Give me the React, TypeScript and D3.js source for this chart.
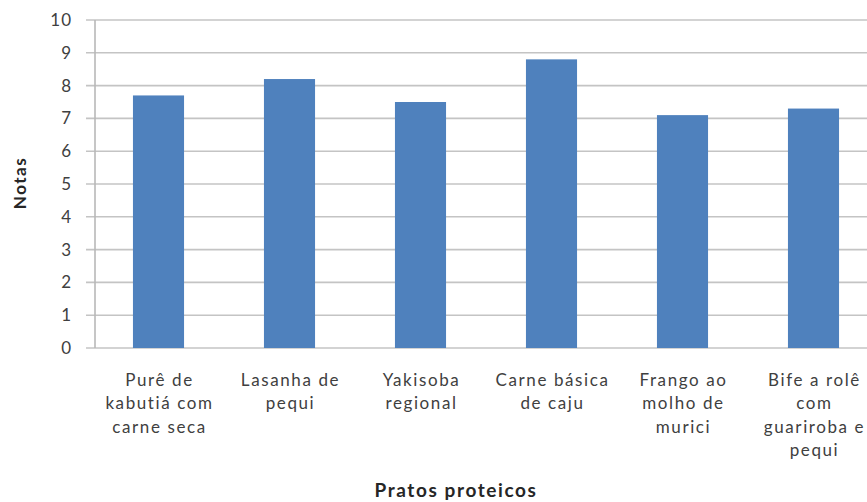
import React from "react";
import * as d3 from "d3";

// Average score per protein dish
const categories = [
  "Purê de kabutiá com carne seca",
  "Lasanha de pequi",
  "Yakisoba regional",
  "Carne básica de caju",
  "Frango ao molho de murici",
  "Bife a rolê com guariroba e pequi",
];
const categoryLines = [
  ["Purê de", "kabutiá com", "carne seca"],
  ["Lasanha de", "pequi"],
  ["Yakisoba", "regional"],
  ["Carne básica", "de caju"],
  ["Frango ao", "molho de", "murici"],
  ["Bife a rolê", "com", "guariroba e", "pequi"],
];
const notas = [7.7, 8.2, 7.5, 8.8, 7.1, 7.3];
const yTicks = [0, 1, 2, 3, 4, 5, 6, 7, 8, 9, 10];

const W = 867;
const H = 502;
const plotLeft = 95;
const plotTop = 20;
const plotBottom = 348;
const step = 131;
const FONT = "Lato, 'Open Sans', sans-serif";

export default function App() {
  const x = d3
    .scaleBand<string>()
    .domain(categories)
    .range([plotLeft - 2, plotLeft - 2 + step * categories.length])
    .paddingInner(0.61)
    .paddingOuter(0.305);
  const y = d3.scaleLinear().domain([0, 10]).range([plotBottom, plotTop]);

  return (
    <svg
      width={W}
      height={H}
      style={{ position: "absolute", left: 0, top: 0, background: "#fff" }}
    >
      {/* horizontal gridlines with left tick marks */}
      {yTicks.map((t) => (
        <g key={t}>
          <line
            x1={plotLeft - 9}
            x2={W}
            y1={y(t)}
            y2={y(t)}
            stroke="#c4c4c4"
            strokeWidth={1.6}
          />
          <text
            x={72}
            y={y(t)}
            dy="0.35em"
            textAnchor="end"
            fontFamily={FONT}
            fontSize={17}
            letterSpacing={1}
            fill="#404040"
          >
            {t}
          </text>
        </g>
      ))}
      {/* value axis */}
      <line
        x1={plotLeft}
        x2={plotLeft}
        y1={plotTop}
        y2={plotBottom}
        stroke="#b8b8b8"
        strokeWidth={1.6}
      />
      {/* bars */}
      {categories.map((c, i) => (
        <rect
          key={c}
          x={x(c)}
          y={y(notas[i])}
          width={x.bandwidth()}
          height={y(0) - y(notas[i])}
          fill="#4f81bd"
        />
      ))}
      {/* category labels */}
      {categories.map((c, i) => {
        const cx = (x(c) as number) + x.bandwidth() / 2 + 1;
        return (
          <text
            key={c}
            x={cx}
            y={386}
            textAnchor="middle"
            fontFamily={FONT}
            fontSize={17}
            letterSpacing={1.6}
            fill="#404040"
          >
            {categoryLines[i].map((ln, j) => (
              <tspan key={j} x={cx} dy={j === 0 ? 0 : 23.3}>
                {ln}
              </tspan>
            ))}
          </text>
        );
      })}
      {/* axis titles */}
      <text
        x={456}
        y={497}
        textAnchor="middle"
        fontFamily={FONT}
        fontSize={19}
        fontWeight="bold"
        letterSpacing={1.6}
        fill="#262626"
      >
        Pratos proteicos
      </text>
      <text
        transform={`translate(26,183) rotate(-90)`}
        textAnchor="middle"
        fontFamily={FONT}
        fontSize={17}
        fontWeight="bold"
        letterSpacing={1.5}
        fill="#262626"
      >
        Notas
      </text>
    </svg>
  );
}
